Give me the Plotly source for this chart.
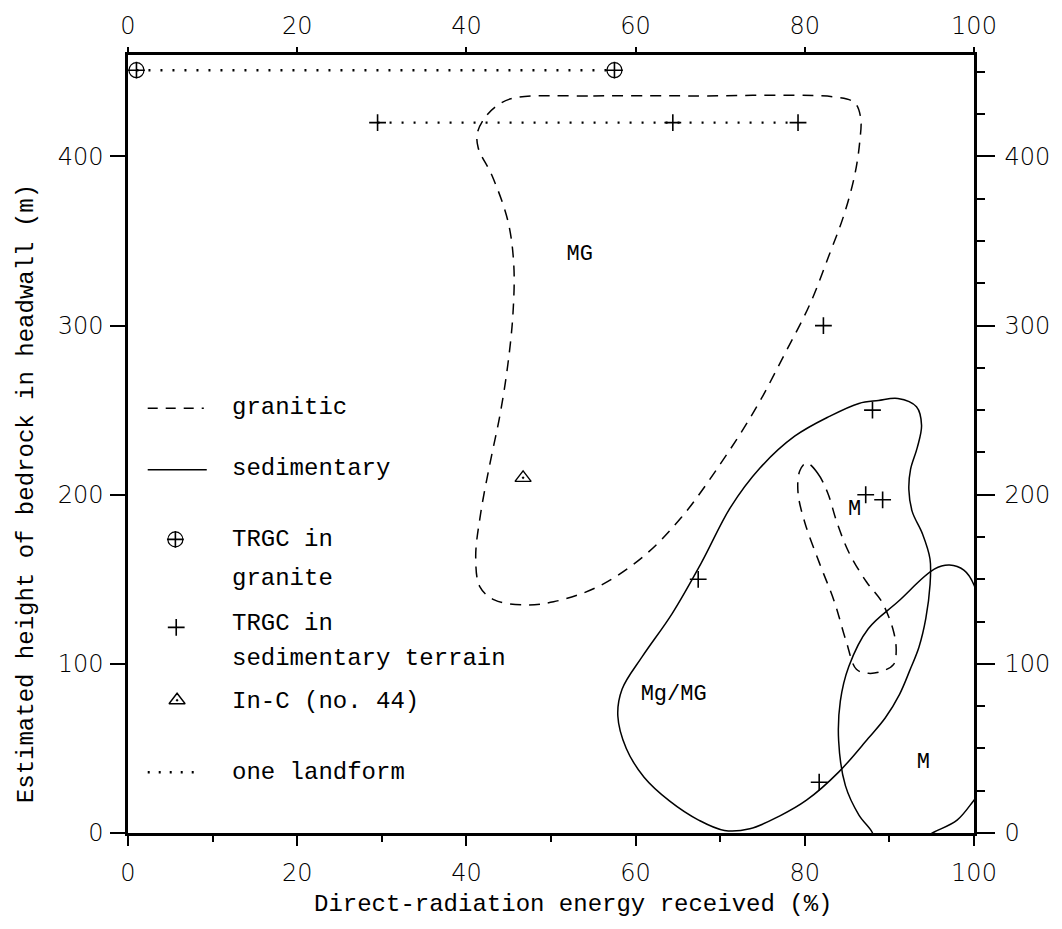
import plotly.graph_objects as go

# ---- data -------------------------------------------------------------
# TRGC in granite (one landform, joined by a dotted line)
granite_x = [1.0, 57.5]
granite_y = [451, 451]

# TRGC in sedimentary terrain: one landform joined by a dotted line
landform_x = [29.5, 64.4, 79.2]
landform_y = [420, 420, 420]

# other TRGC in sedimentary terrain
sed_x = [82.2, 88.0, 87.2, 89.2, 67.4, 81.7]
sed_y = [300, 250, 200, 197, 150, 30]

# In-C (no. 44)
inc_x = [46.7]
inc_y = [210]

# granitic envelope "MG" (dashed)
mg_x = [45.6, 55.0, 66.6, 83.8, 85.9, 86.6, 86.5, 85.9, 84.6, 82.9, 80.6, 77.6,
        74.2, 70.1, 65.4, 60.8, 55.5, 50.3, 46.8, 43.3, 41.6, 41.1, 41.7, 42.8,
        44.0, 44.9, 45.5, 45.6, 44.9, 43.0, 41.4, 41.3, 42.2, 43.6, 45.6]
mg_y = [434.6, 435.8, 435.8, 435.0, 431.7, 423.0, 409.0, 389.0, 365.0, 342.0,
        312.6, 283.0, 251.0, 218.8, 186.5, 163.0, 145.5, 136.7, 134.9, 137.8,
        145.5, 163.0, 189.4, 218.8, 248.0, 277.0, 306.7, 336.0, 362.0, 389.0,
        405.0, 414.0, 423.0, 430.0, 434.6]

# granitic envelope "M" (dashed)
mgr_x = [80.2, 81.5, 82.7, 83.8, 85.2, 87.3, 89.1, 90.5, 90.8, 90.5, 89.1, 87.5,
         86.1, 84.9, 83.5, 81.7, 80.0, 79.2, 79.4, 80.2]
mgr_y = [218.8, 212.9, 201.2, 183.6, 166.0, 148.4, 136.7, 119.0, 107.3, 99.7,
         95.6, 94.4, 96.8, 113.2, 136.7, 160.0, 183.6, 201.2, 214.0, 218.8]

# sedimentary envelope "Mg/MG" (solid)
mgmg_x = [88.7, 91.0, 93.2, 93.8, 93.3, 92.5, 92.3, 92.7, 93.9, 94.8, 94.8, 94.3,
          93.5, 92.4, 91.2, 89.5, 87.5, 84.0, 80.2, 77.0, 73.5, 70.5, 67.5, 64.0,
          61.0, 58.9, 57.9, 58.4, 60.8, 64.3, 67.8, 71.2, 74.7, 78.8, 82.9, 86.4,
          88.7]
mgmg_y = [255.7, 256.9, 252.0, 241.0, 228.0, 215.0, 203.0, 190.0, 177.0, 162.0,
          146.6, 126.7, 110.0, 96.0, 82.0, 68.0, 56.0, 36.0, 19.4, 10.0, 2.5, 1.5,
          7.5, 19.0, 33.0, 50.0, 69.2, 85.0, 104.4, 129.6, 160.0, 192.4, 215.8,
          234.6, 246.3, 254.0, 255.7]

# sedimentary envelope "M" (solid, runs past the frame)
msed_x = [88.0, 86.4, 84.8, 84.0, 84.2, 85.2, 87.5, 91.0, 95.3, 97.1, 98.8, 100.0,
          100.9, 100.9, 100.0, 98.0, 95.3, 93.4, 88.0, 88.0]
msed_y = [0.0, 10.6, 28.0, 54.5, 78.0, 98.5, 120.8, 136.7, 156.0, 158.4, 155.4,
          146.6, 125.0, 25.0, 19.4, 7.6, 0.6, -4.0, -4.0, 0.0]

# region labels
region_text = ["MG", "M", "Mg/MG", "M"]
region_x = [53.4, 85.9, 64.5, 94.0]
region_y = [342, 191, 82, 41.6]

x_ticks = [0, 20, 40, 60, 80, 100]
y_ticks = [0, 100, 200, 300, 400]

# ---- styling ----------------------------------------------------------
TYPE = "Liberation Mono, Courier New, monospace"
NUM = dict(family="DejaVu Sans", size=24, color="black", weight=200)
INK = "black"

fig = go.Figure()

dash = "11px,8px"
smooth = dict(shape="spline", smoothing=1.0)
fig.add_trace(go.Scatter(x=mg_x, y=mg_y, mode="lines", line=dict(color=INK, width=1.5, dash=dash, **smooth), hoverinfo="skip"))
fig.add_trace(go.Scatter(x=mgr_x, y=mgr_y, mode="lines", line=dict(color=INK, width=1.5, dash=dash, **smooth), hoverinfo="skip"))
fig.add_trace(go.Scatter(x=mgmg_x, y=mgmg_y, mode="lines", line=dict(color=INK, width=1.5, **smooth), hoverinfo="skip"))
fig.add_trace(go.Scatter(x=msed_x, y=msed_y, mode="lines", line=dict(color=INK, width=1.5, **smooth), hoverinfo="skip"))

# dotted landform links
dots = dict(color=INK, width=2.4, dash="2px,10px")
fig.add_trace(go.Scatter(x=granite_x, y=granite_y, mode="lines", line=dots))
fig.add_trace(go.Scatter(x=landform_x, y=landform_y, mode="lines", line=dots))

plus = dict(symbol="cross-thin-open", size=12, line=dict(color=INK, width=1.6), color=INK)
ring = dict(symbol="circle-open", size=15, line=dict(color=INK, width=1.2), color=INK)
tri = dict(symbol="triangle-up-open-dot", size=14, line=dict(color=INK, width=1.4), color=INK)
fig.add_trace(go.Scatter(x=granite_x, y=granite_y, mode="markers", marker=ring))
fig.add_trace(go.Scatter(x=granite_x, y=granite_y, mode="markers", marker=plus))
fig.add_trace(go.Scatter(x=landform_x, y=landform_y, mode="markers", marker=plus))
fig.add_trace(go.Scatter(x=sed_x, y=sed_y, mode="markers", marker=plus))
fig.add_trace(go.Scatter(x=inc_x, y=inc_y, mode="markers", marker=tri))

fig.add_trace(go.Scatter(x=region_x, y=region_y, mode="text", text=region_text,
                         textfont=dict(family=TYPE, size=22, color=INK)))

# key glyphs
key_x = [5.6, 5.7, 5.8]
key_y = [173.6, 121.6, 78.5]
fig.add_trace(go.Scatter(x=[key_x[0]], y=[key_y[0]], mode="markers", marker=ring))
fig.add_trace(go.Scatter(x=key_x[:2], y=key_y[:2], mode="markers", marker=plus))
fig.add_trace(go.Scatter(x=[key_x[2]], y=[key_y[2]], mode="markers", marker=tri))

# invisible trace carrying the top / right axes
fig.add_trace(go.Scatter(x=[0, 100], y=[0, 460], xaxis="x2", yaxis="y2", mode="markers",
                         marker=dict(opacity=0), hoverinfo="skip"))

# key line samples and labels (paper coordinates)
shapes = [
    dict(type="line", xref="paper", yref="paper", x0=0.0233, x1=0.0896, y0=0.546, y1=0.546,
         line=dict(color=INK, width=1.5, dash="10px,8px")),
    dict(type="line", xref="paper", yref="paper", x0=0.0233, x1=0.0931, y0=0.467, y1=0.467,
         line=dict(color=INK, width=1.5)),
    dict(type="line", xref="paper", yref="paper", x0=0.0233, x1=0.078, y0=0.078, y1=0.078,
         line=dict(color=INK, width=2.4, dash="2px,9px")),
]

key_lines = [("granitic", 404), ("sedimentary", 466), ("TRGC in", 537), ("granite", 577),
             ("TRGC in", 622), ("sedimentary terrain", 657), ("In-C (no. 44)", 700),
             ("one landform", 772)]
annotations = []
for txt, py in key_lines:
    annotations.append(dict(text=txt, xref="paper", yref="paper", x=(232 - 128) / 859,
                            y=(833 - py) / 784, xanchor="left", yanchor="middle", showarrow=False,
                            font=dict(family=TYPE, size=24, color=INK)))

annotations.append(dict(text="Direct-radiation energy received (%)", xref="paper", yref="paper",
                        x=(580 - 128) / 859, y=(833 - 905) / 784, xanchor="center", yanchor="middle",
                        showarrow=False, font=dict(family=TYPE, size=24, color=INK)))
annotations.append(dict(text="Estimated height of bedrock in headwall (m)", xref="paper", yref="paper",
                        x=(25 - 128) / 859, y=(833 - 491) / 784, xanchor="center", yanchor="middle",
                        textangle=-90, showarrow=False, font=dict(family=TYPE, size=24, color=INK)))

axis_common = dict(showgrid=False, zeroline=False, showline=True, linecolor=INK, linewidth=2.5,
                   ticks="outside", tickcolor=INK, tickwidth=1.5, tickfont=NUM)

fig.update_layout(
    width=1062, height=929,
    margin=dict(l=128, r=75, t=49, b=96),
    paper_bgcolor="white", plot_bgcolor="white",
    showlegend=False,
    shapes=shapes, annotations=annotations,
    xaxis=dict(range=[0, 100], tickvals=x_ticks, ticklen=10, ticklabelstandoff=6,
               minor=dict(dtick=10, tick0=0, ticks="outside", ticklen=6, tickcolor=INK, tickwidth=1.5),
               **axis_common),
    xaxis2=dict(range=[0, 100], tickvals=x_ticks, ticklen=5, side="top", overlaying="x", anchor="y",
                ticklabelstandoff=4, **axis_common),
    yaxis=dict(range=[0, 460], tickvals=y_ticks, ticklen=15, ticklabelstandoff=2, **axis_common),
    yaxis2=dict(range=[0, 460], tickvals=y_ticks, ticklen=18, side="right", overlaying="y", anchor="x",
                ticklabelstandoff=5,
                minor=dict(dtick=25, tick0=0, ticks="outside", ticklen=8, tickcolor=INK, tickwidth=1.5),
                **axis_common),
)

fig.write_html("out.html")
